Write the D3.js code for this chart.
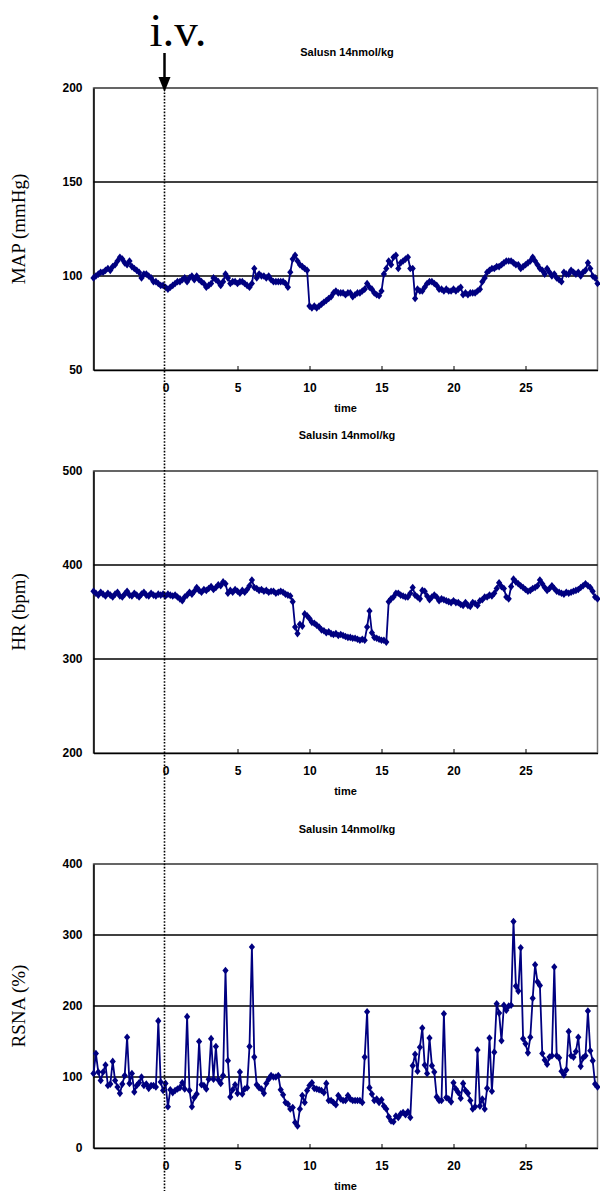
<!DOCTYPE html>
<html>
<head>
<meta charset="utf-8">
<script src="https://cdn.jsdelivr.net/npm/d3@7"></script>
<style>
body{margin:0;background:#fff;}
svg{display:block;}
</style>
</head>
<body>
<script>
// ---- DATA ----
const timeStart = -5, samplesPerMin = 6; // one sample every 10 s
const xTicks = [0, 5, 10, 15, 20, 25];
const titles = ["Salusn 14nmol/kg", "Salusin 14nmol/kg", "Salusin 14nmol/kg"];
const yLabels = ["MAP (mmHg)", "HR (bpm)", "RSNA (%)"];
const mapTicks = [50, 100, 150, 200];
const hrTicks = [200, 300, 400, 500];
const rsnaTicks = [0, 100, 200, 300, 400];

const mapValues = [
 99,100,101,102,102,103,104,103,105,106,108,110,
 109,107,106,108,105,104,103,
 102,99,101,101,100,99,
 97,97,96,95,95,94,
 93,94,95,96,97,97,
 98,99,97,99,100,98,
 100,98,97,96,94,95,
 96,99,98,97,95,97,
 101,99,96,97,97,96,
 97,97,96,95,94,96,
 104,99,101,100,100,99,
 100,98,97,97,97,97,
 97,96,94,102,109,111,
 108,106,105,104,103,
 84,83,84,83,84,85,
 86,87,88,89,91,92,
 91,91,91,90,91,91,
 89,90,91,91,92,93,
 96,94,93,91,90,89.5,
 92,101,104,108,106,110,
 111,104,107,108,109,110,
 104,104,88,93,92,92,
 94,96,97,97,96,95,
 93,93,92,93,92,92,
 93,92,93,94,90,91,
 90,91,91,91,92,93,
 97,99,102,103,104,104,
 105,105,106,107,108,108,
 108,107,106,106,104,105,
 106,107,108,110,108,106,
 104,103,101,104,102,100,
 101,99,98,97,102,101,
 101,103,102,101,102,100,
 102,103,107,104,100,99,
 96
];

const hrValues = [
 372,370,368,371,369,367,
 370,368,366,369,371,367,
 366,369,372,368,367,370,
 368,366,369,371,368,367,
 370,368,367,369,368,369,
 367,369,368,367,368,366,
 364,362,366,368,371,369,
 372,376,373,371,374,373,
 375,377,374,376,379,378,
 382,380,370,373,371,374,
 372,370,373,371,374,378,
 384,376,375,373,374,372,
 373,371,372,372,370,371,
 372,371,369,368,367,361,
 334,327,337,335,348,346,
 343,339,338,336,334,331,
 330,328,329,327,326,327,
 325,326,325,324,323,323,
 322,322,321,320,321,320,
 334,351,328,323,322,321,
 320,320,318,361,364,366,
 370,370,368,367,366,366,
 370,376,368,366,364,373,
 372,367,363,366,368,366,
 362,364,363,362,361,360,
 362,360,360,358,357,360,
 357,356,360,359,357,362,
 363,366,366,368,367,370,
 375,381,377,375,366,364,
 377,385,382,380,378,376,
 374,372,373,375,376,378,
 384,380,376,373,375,378,
 375,372,371,370,369,371,
 370,371,372,373,374,376,
 378,380,378,376,372,366,
 364
];

const rsnaValues = [
 105,133,107,95,107,117,88,90,122,95,
 86,77,90,102,156,91,105,79,88,92,
 100,88,90,84,88,88,86,179,93,81,
 91,58,82,78,81,83,85,92,83,185,
 81,58,71,76,150,89,88,83,97,154,
 97,143,96,91,102,250,123,72,82,89,
 77,107,76,83,85,143,283,128,89,85,
 83,77,91,97,102,100,100,102,82,75,
 64,62,55,57,36,31,55,74,64,81,
 88,92,84,83,82,81,78,91,67,67,
 64,61,74,69,67,67,74,69,67,67,
 67,67,64,128,192,85,76,67,69,64,
 68,59,55,44,38,37,45,43,48,50,
 47,51,43,116,132,108,142,169,117,105,
 155,116,107,72,67,67,189,71,69,65,
 92,83,78,70,91,81,77,67,55,58,
 138,59,69,55,84,155,80,135,203,190,
 151,201,194,200,201,319,228,221,282,154,
 147,134,156,211,258,234,229,133,124,118,
 128,130,255,130,127,108,103,110,164,130,
 128,136,156,115,127,130,193,137,123,90,
 86
];

// ---- LAYOUT ----
const W = 600, H = 1191;
const plotLeft = 93.5, plotRight = 597.5;
const panels = [
  {top: 88, bottom: 370, domain: [50, 200], ticks: mapTicks, values: mapValues, title: titles[0], ylabel: yLabels[0], titleY: 56},
  {top: 471, bottom: 753, domain: [200, 500], ticks: hrTicks, values: hrValues, title: titles[1], ylabel: yLabels[1], titleY: 439},
  {top: 864, bottom: 1148, domain: [0, 400], ticks: rsnaTicks, values: rsnaValues, title: titles[2], ylabel: yLabels[2], titleY: 833}
];

const svg = d3.select("body").append("svg").attr("width", W).attr("height", H);
const x = d3.scaleLinear().domain([-5, 30]).range([plotLeft, plotRight]);
const navy = "#000080";
const diamond = "M0,-3.8L3.1,0L0,3.8L-3.1,0Z";
const boldFont = "'Liberation Sans Narrow', 'Liberation Sans', Arial, sans-serif";

panels.forEach(p => {
  const y = d3.scaleLinear().domain(p.domain).range([p.bottom, p.top]);
  const g = svg.append("g");

  // plot frame (gray)
  g.append("rect").attr("x", plotLeft).attr("y", p.top)
    .attr("width", plotRight - plotLeft).attr("height", p.bottom - p.top)
    .attr("fill", "none").attr("stroke", "#777").attr("stroke-width", 1.5);

  // gridlines
  g.selectAll(".grid").data(p.ticks.filter(t => t !== p.domain[0])).enter().append("line")
    .attr("x1", plotLeft).attr("x2", plotRight)
    .attr("y1", d => y(d)).attr("y2", d => y(d))
    .attr("stroke", d => d === p.domain[1] ? "#555" : "#000").attr("stroke-width", 1.5);

  // y axis
  const yAxis = d3.axisLeft(y).tickValues(p.ticks).tickSize(0).tickPadding(11);
  const ya = g.append("g").attr("transform", `translate(${plotLeft},0)`).call(yAxis);
  ya.select(".domain").attr("stroke", "#000").attr("stroke-width", 1.5);
  ya.selectAll("text").attr("font-family", boldFont).attr("font-weight", "bold")
    .attr("font-size", 12).attr("fill", "#000");

  // x axis
  const xAxis = d3.axisBottom(x).tickValues(xTicks).tickSize(0).tickPadding(13).tickFormat(d3.format("d"));
  const xa = g.append("g").attr("transform", `translate(0,${p.bottom})`).call(xAxis);
  xa.select(".domain").attr("stroke", "#000").attr("stroke-width", 1.5);
  xa.selectAll("text").attr("font-family", boldFont).attr("font-weight", "bold")
    .attr("font-size", 12).attr("fill", "#000");
  // inward tick marks
  xa.selectAll(".tick").filter(d => d !== 0).append("line")
    .attr("y1", 0).attr("y2", -4).attr("stroke", "#000").attr("stroke-width", 1);

  // x axis title
  g.append("text").attr("x", x(12.5)).attr("y", p.bottom + 42)
    .attr("text-anchor", "middle").attr("font-family", boldFont).attr("font-weight", "bold")
    .attr("font-size", 11).text("time");

  // chart title
  g.append("text").attr("x", 347).attr("y", p.titleY)
    .attr("text-anchor", "middle").attr("font-family", boldFont).attr("font-weight", "bold")
    .attr("font-size", 11).text(p.title);

  // y label
  const cy = (p.top + p.bottom) / 2;
  g.append("text").attr("transform", `translate(25,${cy}) rotate(-90)`)
    .attr("text-anchor", "middle").attr("font-family", "'Liberation Serif', 'Times New Roman', serif")
    .attr("font-size", 19).text(p.ylabel);

  // data
  const pts = p.values.map((v, i) => ({t: timeStart + i / samplesPerMin, v}));
  const line = d3.line().x(d => x(d.t)).y(d => y(d.v));
  g.append("path").datum(pts).attr("d", line)
    .attr("fill", "none").attr("stroke", navy).attr("stroke-width", 1.8).attr("stroke-linejoin", "round");
  g.selectAll(".pt").data(pts).enter().append("path")
    .attr("d", diamond)
    .attr("transform", d => `translate(${x(d.t)},${y(d.v)})`)
    .attr("fill", navy);
});

// dotted injection line at t = 0
const x0 = x(0) - 1;
svg.append("line").attr("x1", x0).attr("x2", x0).attr("y1", 86).attr("y2", H)
  .attr("stroke", "#000").attr("stroke-width", 1.6).attr("stroke-dasharray", "1.6,1.6");

// arrow
svg.append("line").attr("x1", x0).attr("x2", x0).attr("y1", 53).attr("y2", 78)
  .attr("stroke", "#000").attr("stroke-width", 2.5);
svg.append("path").attr("d", `M${x0 - 6},77L${x0 + 6},77L${x0},92Z`).attr("fill", "#000");

// i.v. label
svg.append("text").attr("x", x0 - 15).attr("y", 46)
  .attr("font-family", "'Liberation Serif', 'Times New Roman', serif")
  .attr("font-size", 47).text("i.v.");
</script>
</body>
</html>
